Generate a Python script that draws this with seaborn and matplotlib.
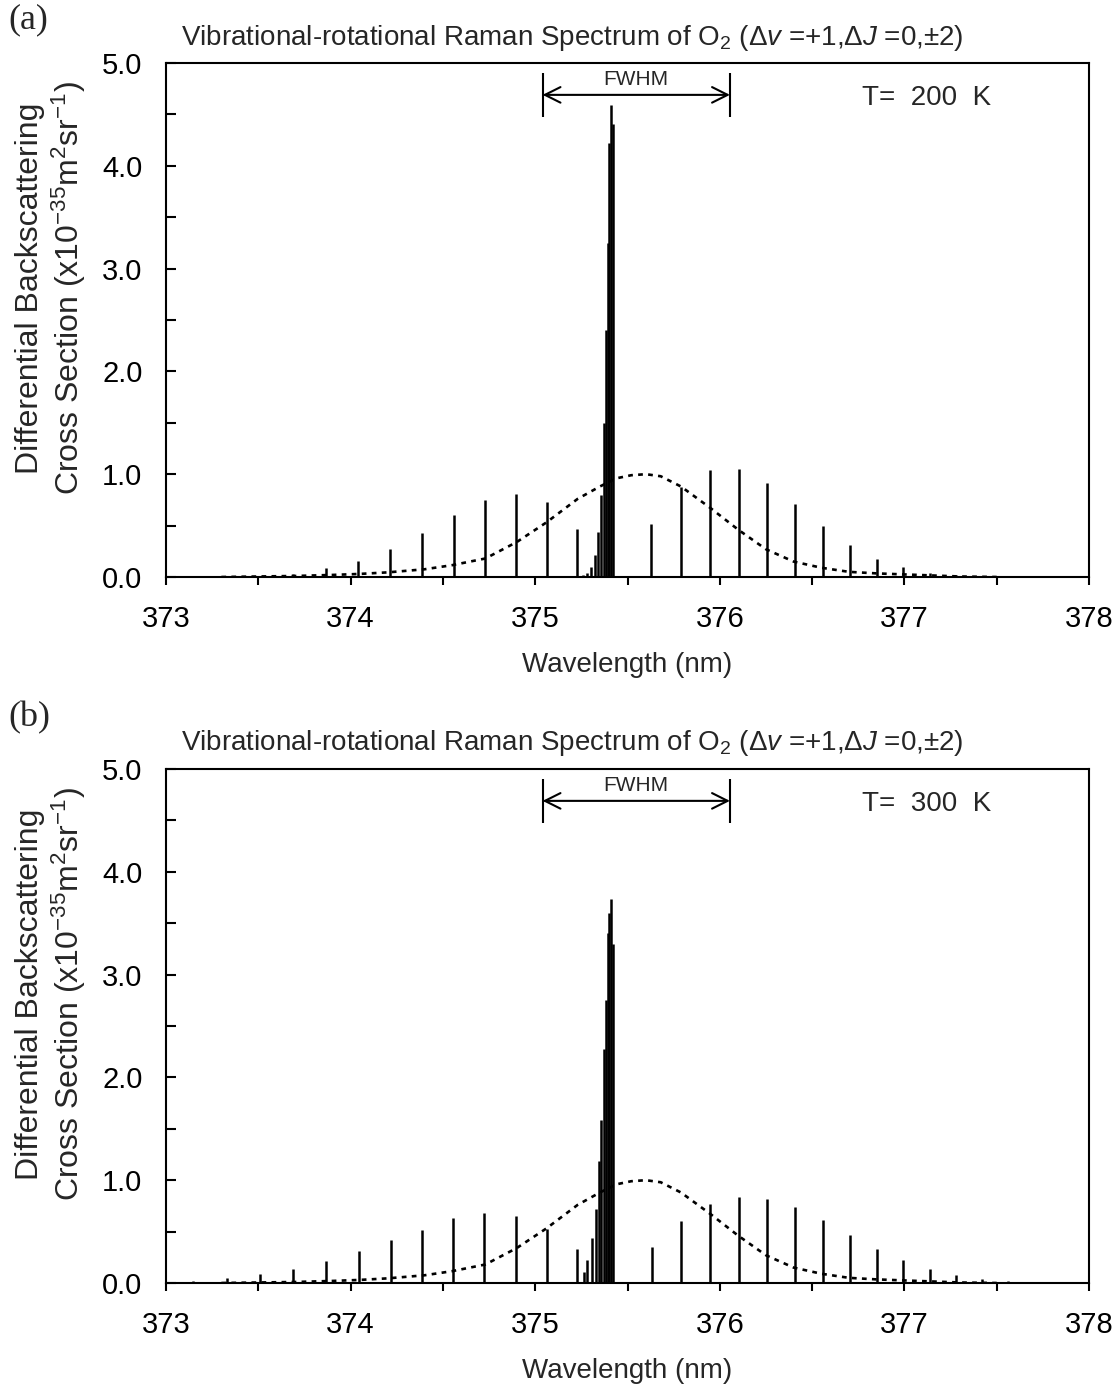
import numpy as np
import pandas as pd
import matplotlib
matplotlib.use("Agg")
import matplotlib.pyplot as plt
from matplotlib.ticker import MultipleLocator, FormatStrFormatter
import seaborn as sns

# ---------------- data ----------------
# Panel (a): T = 200 K  -- line positions (nm) and cross sections
wl_a = [373.35, 373.52, 373.69, 373.866, 374.041, 374.216, 374.387, 374.558,
        374.726, 374.896, 375.062, 375.227,
        375.257, 375.279, 375.302, 375.322, 375.342, 375.359, 375.370, 375.381,
        375.392, 375.401, 375.411, 375.423,
        375.630, 375.789, 375.948, 376.102, 376.254, 376.407, 376.557, 376.704,
        376.850, 376.995, 377.139, 377.280, 377.420]
h_a = [0.005, 0.012, 0.03, 0.085, 0.159, 0.275, 0.43, 0.60,
       0.75, 0.81, 0.73, 0.47,
       0.015, 0.036, 0.10, 0.21, 0.44, 0.80, 1.50, 2.40,
       3.25, 4.22, 4.59, 4.41,
       0.52, 0.88, 1.04, 1.05, 0.91, 0.71, 0.50, 0.31,
       0.175, 0.094, 0.04, 0.018, 0.008]

# Panel (b): T = 300 K
wl_b = [373.148, 373.332, 373.509, 373.690, 373.868, 374.044, 374.219, 374.389,
        374.556, 374.724, 374.894, 375.062, 375.229,
        375.262, 375.283, 375.306, 375.328, 375.344, 375.359, 375.370, 375.381,
        375.392, 375.401, 375.411, 375.423,
        375.631, 375.790, 375.947, 376.102, 376.256, 376.408, 376.557, 376.705,
        376.850, 376.994, 377.139, 377.280, 377.423, 377.561, 377.700]
h_b = [0.02, 0.05, 0.085, 0.137, 0.21, 0.31, 0.42, 0.52,
       0.63, 0.68, 0.65, 0.53, 0.33,
       0.11, 0.22, 0.44, 0.72, 1.19, 1.59, 2.28, 2.75,
       3.40, 3.60, 3.74, 3.30,
       0.35, 0.60, 0.77, 0.84, 0.82, 0.74, 0.61, 0.47,
       0.33, 0.22, 0.14, 0.08, 0.04, 0.02, 0.01]

# Filter transmission (dashed curve)
filt_wl = [373.3, 373.5, 373.7, 373.9, 374.05, 374.2, 374.4, 374.55, 374.73,
           374.9, 375.06, 375.23, 375.35, 375.44, 375.52, 375.6, 375.68,
           375.79, 375.95, 376.1, 376.25, 376.4, 376.55, 376.7, 376.85,
           377.0, 377.15, 377.3, 377.5]
filt_val = [0.0, 0.005, 0.01, 0.02, 0.03, 0.045, 0.075, 0.115, 0.18,
            0.34, 0.53, 0.76, 0.88, 0.96, 0.99, 1.0, 0.98,
            0.88, 0.67, 0.46, 0.27, 0.15, 0.09, 0.05, 0.035,
            0.025, 0.015, 0.005, 0.0]

x_ticks = [373, 374, 375, 376, 377, 378]
panels = ["(a)", "(b)"]
temps = ["T=  200  K", "T=  300  K"]
fwhm_edges = [375.04, 376.055]

# ---------------- styling ----------------
sns.set_theme(style="ticks")
plt.rcParams['font.family'] = ['Liberation Sans', 'DejaVu Sans']
plt.rcParams['mathtext.fontset'] = 'custom'
plt.rcParams['mathtext.rm'] = 'Liberation Sans'
plt.rcParams['mathtext.it'] = 'Liberation Sans:italic'
plt.rcParams['mathtext.bf'] = 'Liberation Sans:bold'

W, H = 1117, 1384
fig = plt.figure(figsize=(W / 100, H / 100), dpi=100)
fig.patch.set_facecolor('white')

ax_a = fig.add_axes([166 / W, (H - 577) / H, 923 / W, 514 / H])
ax_b = fig.add_axes([166 / W, (H - 1283) / H, 923 / W, 514 / H])

title = ("Vibrational-rotational Raman Spectrum of O$_2$ "
         "(Δ$\\it{v}$ =+1,Δ$\\it{J}$ =0,±2)")
ylab = "Differential Backscattering\nCross Section (x10$^{-35}$m$^2$sr$^{-1}$)"

filt_df = pd.DataFrame({"wl": filt_wl, "val": filt_val})

for ax, wl, h, lab, temp, ytitle, ypanel in [
        (ax_a, wl_a, h_a, panels[0], temps[0], 38, 20),
        (ax_b, wl_b, h_b, panels[1], temps[1], 743, 718)]:
    ax.set_facecolor('white')
    # spectral lines
    ax.vlines(wl, 0, h, colors='black', lw=1.8)
    # filter curve
    sns.lineplot(data=filt_df, x="wl", y="val", ax=ax, color='black',
                 lw=1.9, sort=True)
    ax.lines[-1].set_linestyle((0, (1.8, 2.0)))

    ax.set_xlim(373, 378)
    ax.set_ylim(0, 5.0)
    ax.set_xticks(x_ticks)
    ax.xaxis.set_minor_locator(MultipleLocator(0.5))
    ax.yaxis.set_major_locator(MultipleLocator(1.0))
    ax.yaxis.set_minor_locator(MultipleLocator(0.5))
    ax.yaxis.set_major_formatter(FormatStrFormatter('%.1f'))
    ax.tick_params(axis='x', which='both', direction='out', length=6,
                   width=1.5, labelsize=21, pad=14, colors='black')
    ax.tick_params(axis='y', which='both', direction='in', length=7,
                   width=1.5, labelsize=21, pad=17, colors='black')
    for sp in ax.spines.values():
        sp.set_visible(True)
        sp.set_linewidth(1.5)
        sp.set_color('black')

    ax.set_xlabel("Wavelength (nm)", fontsize=20, labelpad=14)
    ax.set_ylabel(ylab, fontsize=23, linespacing=1.15)
    ax.yaxis.set_label_coords((88 - 166) / 923, 0.562)

    # FWHM marker
    ax.vlines(fwhm_edges, 4.47, 4.90, colors='black', lw=1.5)
    ax.annotate("", xy=(fwhm_edges[0], 4.69), xytext=(fwhm_edges[1], 4.69),
                arrowprops=dict(arrowstyle='<->', lw=1.5, color='black',
                                mutation_scale=28, shrinkA=0, shrinkB=0))
    ax.text(sum(fwhm_edges) / 2, 4.745, "FWHM", ha='center', va='bottom',
            fontsize=15)
    ax.text(376.77, 4.66, temp, ha='left', va='center', fontsize=20)

    # title and panel letter
    fig.text(572 / W, 1 - ytitle / H, title, ha='center', va='center',
             fontsize=20)
    fig.text(8 / W, 1 - ypanel / H, lab, ha='left', va='center',
             fontsize=26, family=['Liberation Serif', 'DejaVu Serif'])

fig.savefig("out.png", dpi=100, facecolor='white')
